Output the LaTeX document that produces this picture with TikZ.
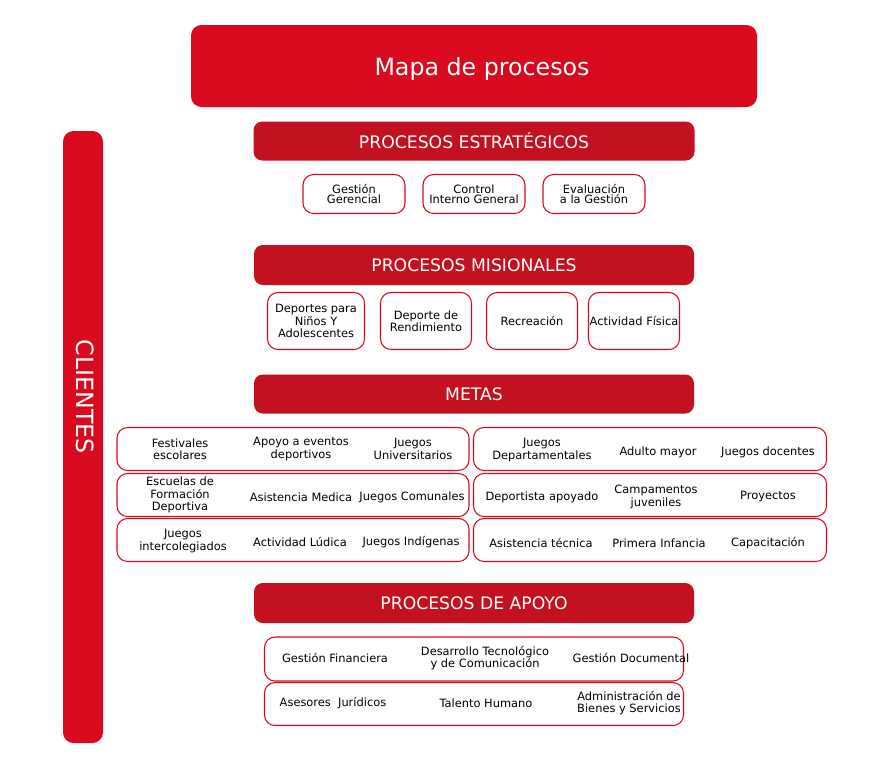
\documentclass[tikz,border=0pt]{standalone}
\usepackage{fontspec}
\setmainfont{DejaVu Sans}
\definecolor{rojo}{HTML}{D90A1E}
\definecolor{rojoosc}{HTML}{C4111F}
\tikzset{
  caja/.style={rectangle, rounded corners=6pt, fill=rojo, text=white, inner sep=0pt},
  cab/.style={rectangle, rounded corners=5pt, fill=rojoosc, text=white, inner sep=0pt, font=\fontsize{9.8}{11}\selectfont},
  marco/.style={rectangle, rounded corners=6pt, draw=rojo, fill=white, inner sep=0pt, line width=0.6pt},
  txt/.style={align=center, inner sep=0pt, font=\fontsize{6.5}{7}\selectfont}
}
\begin{document}
\begin{tikzpicture}[x=0.02cm, y=-0.02cm]
		\def\u{0.02cm}
		\useasboundingbox (0,0) rectangle (895,769);
		% titulo y clientes
		\node[caja, minimum width=566*\u, minimum height=82*\u] (mapa) at (474, 66) {};
		\node[text=white, font=\fontsize{13.5}{15}\selectfont] (mapat) at (482, 69) {Mapa de procesos};
		\node[caja, minimum width=40*\u, minimum height=612*\u] (cli) at (83, 437) {};
		\node[text=white, rotate=-90, font=\fontsize{13.5}{15}\selectfont] (clit) at (85, 397) {CLIENTES};
		% cabeceras
		\node[cab, minimum width=441*\u, minimum height=39*\u] (estr) at (474, 141) {PROCESOS ESTRATÉGICOS};
		\node[cab, minimum width=440*\u, minimum height=40*\u] (mis) at (474, 265) {PROCESOS MISIONALES};
		\node[cab, minimum width=440*\u, minimum height=39*\u] (metas) at (474, 394) {METAS};
		\node[cab, minimum width=440*\u, minimum height=40*\u] (apoyo) at (474, 603) {PROCESOS DE APOYO};
		% estrategicos
		\foreach \x/\t [count=\i] in {354/{Gestión\\Gerencial}, 474/{Control\\Interno General}, 594/{Evaluación\\a la Gestión}}
			\node[marco, txt, font=\fontsize{6.5}{5.5}\selectfont, minimum width=102*\u, minimum height=39*\u] (e\i) at (\x, 194) {\t};
		% misionales
		\node[marco, txt, minimum width=97*\u, minimum height=57*\u] (m1) at (316, 321) {Deportes para\\Niños Y\\Adolescentes};
		\node[marco, txt, minimum width=91*\u, minimum height=57*\u] (m2) at (426, 321) {Deporte de\\Rendimiento};
		\node[marco, txt, minimum width=91*\u, minimum height=57*\u] (m3) at (532, 321) {Recreación};
		\node[marco, txt, minimum width=91*\u, minimum height=57*\u] (m4) at (634, 321) {Actividad Física};
		% metas
		\foreach \y [count=\i] in {449, 495, 540}{
			\node[marco, minimum width=352*\u, minimum height=43*\u] (ml\i) at (293, \y) {};
			\node[marco, minimum width=353*\u, minimum height=43*\u] (mr\i) at (650, \y) {};
		}
		\node[txt] (t11) at (180, 449) {Festivales\\escolares};
		\node[txt] (t12) at (301, 449) {Apoyo a eventos\\deportivos};
		\node[txt] (t13) at (413, 449) {Juegos\\Universitarios};
		\node[txt] (t14) at (542, 450) {Juegos\\Departamentales};
		\node[txt] (t15) at (658, 452) {Adulto mayor};
		\node[txt] (t16) at (768, 452) {Juegos docentes};
		\node[txt] (t21) at (180, 495) {Escuelas de\\Formación\\Deportiva};
		\node[txt] (t22) at (301, 497) {Asistencia Medica};
		\node[txt] (t23) at (412, 497) {Juegos Comunales};
		\node[txt] (t24) at (542, 497) {Deportista apoyado};
		\node[txt] (t25) at (656, 497) {Campamentos\\juveniles};
		\node[txt] (t26) at (768, 497) {Proyectos};
		\node[txt] (t31) at (183, 541) {Juegos\\intercolegiados};
		\node[txt] (t32) at (300, 542) {Actividad Lúdica};
		\node[txt] (t33) at (411, 542) {Juegos Indígenas};
		\node[txt] (t34) at (541, 543) {Asistencia técnica};
		\node[txt] (t35) at (659, 543) {Primera Infancia};
		\node[txt] (t36) at (768, 543) {Capacitación};
		% apoyo
		\node[marco, minimum width=419*\u, minimum height=44*\u] (a1) at (474, 659) {};
		\node[marco, minimum width=419*\u, minimum height=43*\u] (a2) at (474, 704) {};
		\node[txt] (s11) at (335, 658) {Gestión Financiera};
		\node[txt] (s12) at (485, 658) {Desarrollo Tecnológico\\y de Comunicación};
		\node[txt] (s13) at (631, 658) {Gestión Documental};
		\node[txt] (s21) at (333, 703) {Asesores\ \ Jurídicos};
		\node[txt] (s22) at (486, 703) {Talento Humano};
		\node[txt] (s23) at (629, 703) {Administración de\\Bienes y Servicios};
\end{tikzpicture}
\end{document}
